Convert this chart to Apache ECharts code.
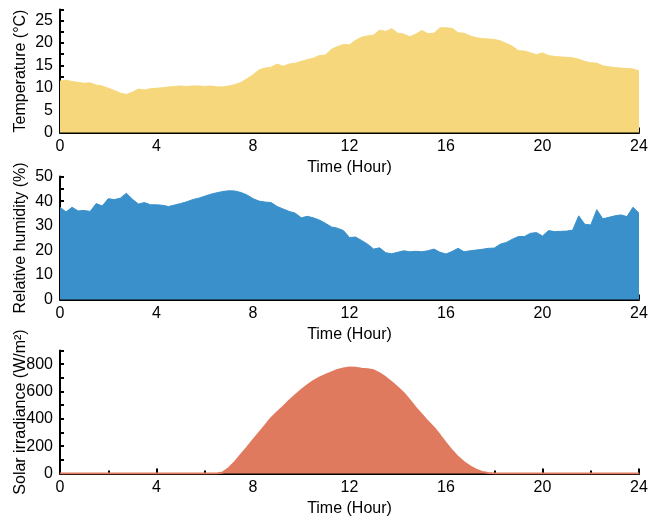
<!DOCTYPE html>
<html>
<head>
<meta charset="utf-8">
<script src="https://cdn.jsdelivr.net/npm/echarts@6/dist/echarts.min.js"></script>
<style>
  html, body { margin: 0; padding: 0; background: #fff; }
  #main { width: 649px; height: 522px; }
</style>
</head>
<body>
<div id="main"></div>
<script>
// time step of the readings (hours)
var step = 0.25;

// temperature, °C
var temperature = [
  11.5, 11.7, 11.4, 11.2, 11.0, 11.1, 10.6, 10.4, 9.9, 9.4, 8.8, 8.5, 9.0, 9.7, 9.5, 9.8,
  9.9, 10.0, 10.2, 10.3, 10.4, 10.3, 10.4, 10.4, 10.3, 10.4, 10.2, 10.2, 10.4, 10.7, 11.2, 12.0,
  12.9, 14.0, 14.4, 14.6, 15.3, 14.8, 15.3, 15.5, 15.9, 16.3, 16.6, 17.2, 17.3, 18.6, 19.2, 19.7,
  19.6, 20.6, 21.3, 21.6, 21.8, 22.9, 22.6, 23.2, 22.2, 22.0, 21.4, 22.0, 22.8, 22.1, 22.2, 23.4,
  23.4, 23.3, 22.3, 22.2, 21.6, 21.2, 21.0, 20.9, 20.8, 20.5, 19.9, 19.3, 18.3, 18.2, 17.8, 17.4,
  17.8, 17.2, 17.0, 16.9, 16.8, 16.7, 16.4, 15.9, 15.6, 15.5, 14.9, 14.7, 14.5, 14.4, 14.3, 14.2,
  13.8
];

// relative humidity, %
var humidity = [
  37.5, 35.6, 37.5, 36.0, 36.2, 35.8, 39.0, 38.0, 41.0, 40.6, 41.2, 43.2, 40.8, 38.8, 39.4, 38.5,
  38.5, 38.3, 37.8, 38.4, 39.0, 39.7, 40.6, 41.2, 42.0, 42.8, 43.4, 43.9, 44.2, 44.1, 43.5, 42.5,
  41.0, 40.0, 39.6, 39.4, 37.8, 36.8, 35.8, 35.1, 33.2, 33.8, 33.2, 32.3, 31.0, 29.5, 29.0, 28.0,
  25.2, 25.4, 24.0, 22.5, 20.5, 21.0, 19.0, 18.6, 19.2, 19.8, 19.4, 19.6, 19.4, 19.8, 20.5, 19.2,
  18.5, 19.5, 20.8, 19.4, 19.8, 20.1, 20.4, 20.8, 20.9, 22.5, 23.2, 24.5, 25.6, 25.6, 26.9, 27.2,
  25.8, 28.0, 27.6, 27.7, 27.8, 28.2, 34.0, 30.6, 30.3, 36.5, 32.8, 33.4, 34.0, 34.4, 33.7, 37.5,
  35.1
];

// solar irradiance, W/m2
var irradiance = [
  0, 0, 0, 0, 0, 0, 0, 0, 0, 0, 0, 0, 0, 0, 0, 0,
  0, 0, 0, 0, 0, 0, 0, 0, 0, 0, 0, 8, 40, 85, 138, 190,
  244, 297, 350, 405, 448, 488, 532, 573, 610, 645, 676, 702, 722, 740, 757, 768,
  775, 774, 766, 762, 755, 733, 703, 667, 630, 588, 535, 480, 430, 380, 335, 280,
  222, 168, 120, 82, 52, 28, 12, 4, 0, 0, 0, 0, 0, 0, 0, 0,
  0, 0, 0, 0, 0, 0, 0, 0, 0, 0, 0, 0, 0, 0, 0, 0,
  0
];

var font = '"Liberation Sans", Arial, sans-serif';

function pairs(arr) {
  return arr.map(function (v, i) { return [i * step, v]; });
}

function xAxisOpt(idx) {
  return {
    type: 'value', gridIndex: idx, min: 0, max: 24, interval: 4,
    name: 'Time (Hour)', nameLocation: 'middle', nameGap: 27, nameMoveOverlap: false,
    nameTextStyle: { fontFamily: font, fontSize: 16, color: '#000' },
    axisLine: { show: true, onZero: false, lineStyle: { color: '#000', width: 2 } },
    axisTick: { show: true, inside: true, length: 5, lineStyle: { color: '#000', width: 2 } },
    minorTick: { show: true, splitNumber: 2, length: 3, lineStyle: { color: '#000', width: 2 } },
    axisLabel: { fontFamily: font, fontSize: 16, color: '#000', margin: 6 },
    splitLine: { show: false }
  };
}

function yAxisOpt(idx, name, max, interval, labelEvery) {
  return {
    type: 'value', gridIndex: idx, min: 0, max: max, interval: interval,
    name: name, nameLocation: 'middle', nameGap: 31, nameMoveOverlap: false,
    nameTextStyle: { fontFamily: font, fontSize: 16, color: '#000' },
    axisLine: { show: true, lineStyle: { color: '#000', width: 2 } },
    axisTick: { show: true, inside: true, length: 4, lineStyle: { color: '#000', width: 2 } },
    axisLabel: {
      fontFamily: font, fontSize: 16, color: '#000', margin: 7, interval: 0,
      formatter: function (v) {
        return Math.abs(v / labelEvery - Math.round(v / labelEvery)) < 1e-6 ? String(v) : '';
      }
    },
    splitLine: { show: false }
  };
}

function areaSeries(idx, data, color, lw) {
  return {
    type: 'line', xAxisIndex: idx, yAxisIndex: idx,
    data: pairs(data), showSymbol: false, animation: false,
    lineStyle: { color: color, width: lw },
    areaStyle: { color: color, opacity: 1 },
    itemStyle: { color: color }
  };
}

var myChart = echarts.init(document.getElementById('main'));
myChart.setOption({
  backgroundColor: '#fff',
  grid: [
    { left: 60, right: 10, top: 9.5, height: 123, containLabel: false, outerBoundsMode: 'none' },
    { left: 60, right: 10, top: 176.5, height: 123, containLabel: false, outerBoundsMode: 'none' },
    { left: 60, right: 10, top: 350.5, height: 123, containLabel: false, outerBoundsMode: 'none' }
  ],
  xAxis: [xAxisOpt(0), xAxisOpt(1), xAxisOpt(2)],
  yAxis: [
    yAxisOpt(0, 'Temperature (°C)', 27.5, 2.5, 5),
    yAxisOpt(1, 'Relative humidity (%)', 50, 5, 10),
    yAxisOpt(2, 'Solar irradiance (W/m²)', 900, 100, 200)
  ],
  series: [
    areaSeries(0, temperature, '#F6D77B', 1),
    areaSeries(1, humidity, '#3A90CB', 1),
    areaSeries(2, irradiance, '#E07A5F', 2)
  ]
});
</script>
</body>
</html>
